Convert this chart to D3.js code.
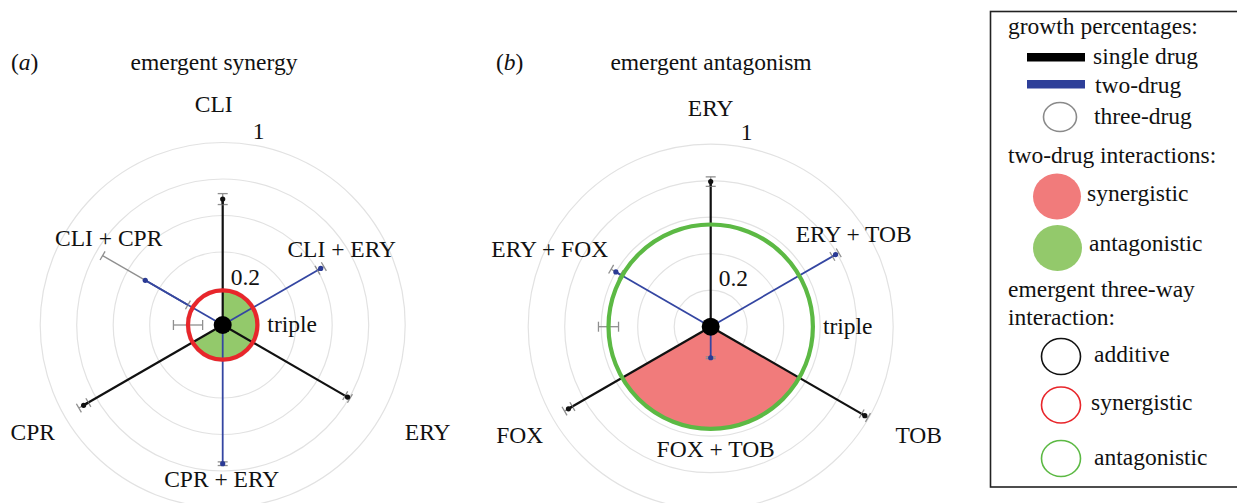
<!DOCTYPE html>
<meta charset="utf-8">
<style>
body { margin: 0; background: #fff; }
svg text { font-family: 'Liberation Serif', 'Times New Roman', Times, 'DejaVu Serif', serif; font-size: 23.5px; fill: #111; }
.ring { fill: none; stroke: #e2e2e2; stroke-width: 1.2px; }
.single { stroke: #111; stroke-width: 2.2px; }
.pair { stroke: #3446a2; stroke-width: 1.8px; }
.err { stroke: #8f8f8f; stroke-width: 1.3px; fill: none; }
</style>
<body>
<script src="https://d3js.org/d3.v7.min.js"></script>
<script>

// ---- data ----
// spokes go clockwise from the top: drug A, A+B, drug B, B+C, drug C, C+A
var spokesA = ["CLI", "CLI + ERY", "ERY", "CPR + ERY", "CPR", "CLI + CPR"];
var growthA = [0.69, 0.62, 0.79, 0.76, 0.88, 0.49];
var errA    = [0.03, 0.02, 0.015, 0.01, 0.03, 0.27];
var pairTypeA = ["antagonistic", "antagonistic", "additive"];
var tripleA = 0.19, tripleErrA = 0.08, tripleTypeA = "synergistic";

var spokesB = ["ERY", "ERY + TOB", "TOB", "FOX + TOB", "FOX", "ERY + FOX"];
var growthB = [0.795, 0.79, 0.975, 0.17, 0.90, 0.60];
var errB    = [0.026, 0.02, 0.02, 0.005, 0.025, 0.03];
var pairTypeB = ["additive", "synergistic", "additive"];
var tripleB = 0.56, tripleErrB = 0.055, tripleTypeB = "antagonistic";

var ringTicks = [0.2, 0.4, 0.6, 0.8, 1];
var labelledTicks = [0.2, 1];

// ---- layout ----
var fillColor = { synergistic: "#f17b7b", antagonistic: "#93c96b" };
var ringColor = { additive: "#111", synergistic: "#e8262b", antagonistic: "#5cb944" };
var serif = "'Liberation Serif', 'Times New Roman', Times, 'DejaVu Serif', serif";

var svg = d3.select("body").append("svg")
    .attr("width", 1237)
    .attr("height", 503)
    .attr("font-family", serif)
    .attr("font-size", 23.5);

var r = d3.scaleLinear().domain([0, 1]).range([0, 182.5]);
var ang = d3.scaleLinear().domain([0, 6]).range([0, 2 * Math.PI]);

function pt(i, v) {
  var a = ang(i), d = r(v);
  return [d * Math.sin(a), -d * Math.cos(a)];
}

function panel(opt) {
  var g = svg.append("g").attr("transform", "translate(" + opt.cx + "," + opt.cy + ")");

  // grid rings
  g.selectAll(".ring").data(ringTicks).enter().append("circle")
      .attr("class", "ring")
      .attr("r", function(d) { return r(d); });

  // two-drug interaction sectors
  var arc = d3.arc().innerRadius(0).outerRadius(r(opt.triple));
  opt.pairType.forEach(function(t, j) {
    if (t === "additive") return;
    var k = 2 * j + 1;
    g.append("path")
        .attr("d", arc({ startAngle: ang(k - 1), endAngle: ang(k + 1) }))
        .attr("fill", fillColor[t]);
  });

  // spokes
  var sp = g.selectAll(".spoke").data(opt.growth).enter().append("g");
  sp.append("line")
      .attr("class", function(d, i) { return i % 2 ? "pair" : "single"; })
      .attr("x1", 0).attr("y1", 0)
      .attr("x2", function(d, i) { return pt(i, d)[0]; })
      .attr("y2", function(d, i) { return pt(i, d)[1]; });

  // error bars along each spoke
  sp.each(function(d, i) {
    var e = opt.err[i], s = d3.select(this);
    var p0 = pt(i, d - e), p1 = pt(i, d + e);
    var a = ang(i), cx = 5 * Math.cos(a), cy = 5 * Math.sin(a);
    s.append("line").attr("class", "err")
        .attr("x1", p0[0]).attr("y1", p0[1]).attr("x2", p1[0]).attr("y2", p1[1]);
    [p0, p1].forEach(function(p) {
      s.append("line").attr("class", "err")
          .attr("x1", p[0] - cx).attr("y1", p[1] - cy)
          .attr("x2", p[0] + cx).attr("y2", p[1] + cy);
    });
    // redraw the data part over the error line
    var pv = pt(i, d), pe = pt(i, Math.max(d - e, 0));
    s.append("line").attr("class", i % 2 ? "pair" : "single")
        .attr("x1", pe[0]).attr("y1", pe[1]).attr("x2", pv[0]).attr("y2", pv[1]);
    s.append("circle")
        .attr("cx", pv[0]).attr("cy", pv[1]).attr("r", 2.6)
        .attr("fill", i % 2 ? "#2a3a94" : "#111");
  });

  // three-drug error bar, drawn towards the left
  var t0 = -r(opt.triple - opt.tripleErr), t1 = -r(opt.triple + opt.tripleErr);
  g.append("line").attr("class", "err").attr("x1", t0).attr("x2", t1).attr("y1", 0).attr("y2", 0);
  [t0, t1].forEach(function(x) {
    g.append("line").attr("class", "err").attr("x1", x).attr("x2", x).attr("y1", -5).attr("y2", 5);
  });

  // three-drug ring
  g.append("circle")
      .attr("r", r(opt.triple))
      .attr("fill", "none")
      .attr("stroke", ringColor[opt.tripleType])
      .attr("stroke-width", 4.2);

  g.append("circle").attr("r", 9).attr("fill", "#000");

  // labels, offsets from the centre
  g.selectAll(".lab").data(opt.spokes).enter().append("text")
      .attr("text-anchor", "middle")
      .attr("dy", "0.35em")
      .attr("x", function(d, i) { return opt.labelAt[i][0]; })
      .attr("y", function(d, i) { return opt.labelAt[i][1]; })
      .text(function(d) { return d; });

  g.append("text")
      .attr("x", r(opt.triple) + 10).attr("dy", "0.3em")
      .text("triple");

  g.selectAll(".tick").data(labelledTicks).enter().append("text")
      .attr("x", function(d) { return d === 1 ? 30 : 8; })
      .attr("y", function(d) { return -r(d) - 4; })
      .text(function(d) { return d; });

  // panel letter and title
  var tag = svg.append("text").attr("x", opt.tagX).attr("y", 70);
  tag.append("tspan").text("(");
  tag.append("tspan").attr("font-style", "italic").text(opt.tag);
  tag.append("tspan").text(")");
  svg.append("text")
      .attr("x", opt.titleX).attr("y", 70)
      .attr("text-anchor", "middle")
      .text(opt.title);
}

panel({
  cx: 222.7, cy: 325, tag: "a", tagX: 11, title: "emergent synergy", titleX: 214,
  spokes: spokesA, growth: growthA, err: errA, pairType: pairTypeA,
  triple: tripleA, tripleErr: tripleErrA, tripleType: tripleTypeA,
  labelAt: [[-9, -221], [119, -76], [205, 107], [-1, 154], [-190, 107], [-114, -87]]
});

panel({
  cx: 710.7, cy: 326.7, tag: "b", tagX: 496, title: "emergent antagonism", titleX: 711,
  spokes: spokesB, growth: growthB, err: errB, pairType: pairTypeB,
  triple: tripleB, tripleErr: tripleErrB, tripleType: tripleTypeB,
  labelAt: [[0, -219], [143, -93], [208, 108], [5, 122], [-191, 108], [-161, -78]]
});

// ---- legend ----
var lg = svg.append("g");
lg.append("rect")
    .attr("x", 990.5).attr("y", 11.5).attr("width", 300).attr("height", 475.5)
    .attr("fill", "none").attr("stroke", "#222").attr("stroke-width", 1.6);

function ltext(x, y, s) { lg.append("text").attr("x", x).attr("y", y).text(s); }

ltext(1008, 34, "growth percentages:");
lg.append("rect").attr("x", 1027).attr("y", 53).attr("width", 58).attr("height", 8.5).attr("fill", "#000");
ltext(1093, 64, "single drug");
lg.append("rect").attr("x", 1027).attr("y", 80).attr("width", 58).attr("height", 8.5).attr("fill", "#2e3f99");
ltext(1095, 93, "two-drug");
lg.append("ellipse").attr("cx", 1060).attr("cy", 117).attr("rx", 16.5).attr("ry", 14.5)
    .attr("fill", "none").attr("stroke", "#8a8a8a").attr("stroke-width", 1.6);
ltext(1094, 124, "three-drug");

ltext(1008, 163, "two-drug interactions:");
lg.append("ellipse").attr("cx", 1057).attr("cy", 196.5).attr("rx", 24).attr("ry", 23)
    .attr("fill", fillColor.synergistic);
ltext(1087, 201, "synergistic");
lg.append("ellipse").attr("cx", 1057.5).attr("cy", 248).attr("rx", 24.5).attr("ry", 23)
    .attr("fill", fillColor.antagonistic);
ltext(1089, 251, "antagonistic");

ltext(1008, 297, "emergent three-way");
ltext(1008, 325, "interaction:");
[["additive", 356.5, 362], ["synergistic", 405, 410], ["antagonistic", 458.5, 465]].forEach(function(d, i) {
  lg.append("ellipse").attr("cx", 1061).attr("cy", d[1]).attr("rx", 19.5).attr("ry", 18)
      .attr("fill", "none").attr("stroke", ringColor[d[0]]).attr("stroke-width", 1.6);
  ltext(i === 1 ? 1091 : 1094, d[2], d[0]);
});

</script>
</body>
